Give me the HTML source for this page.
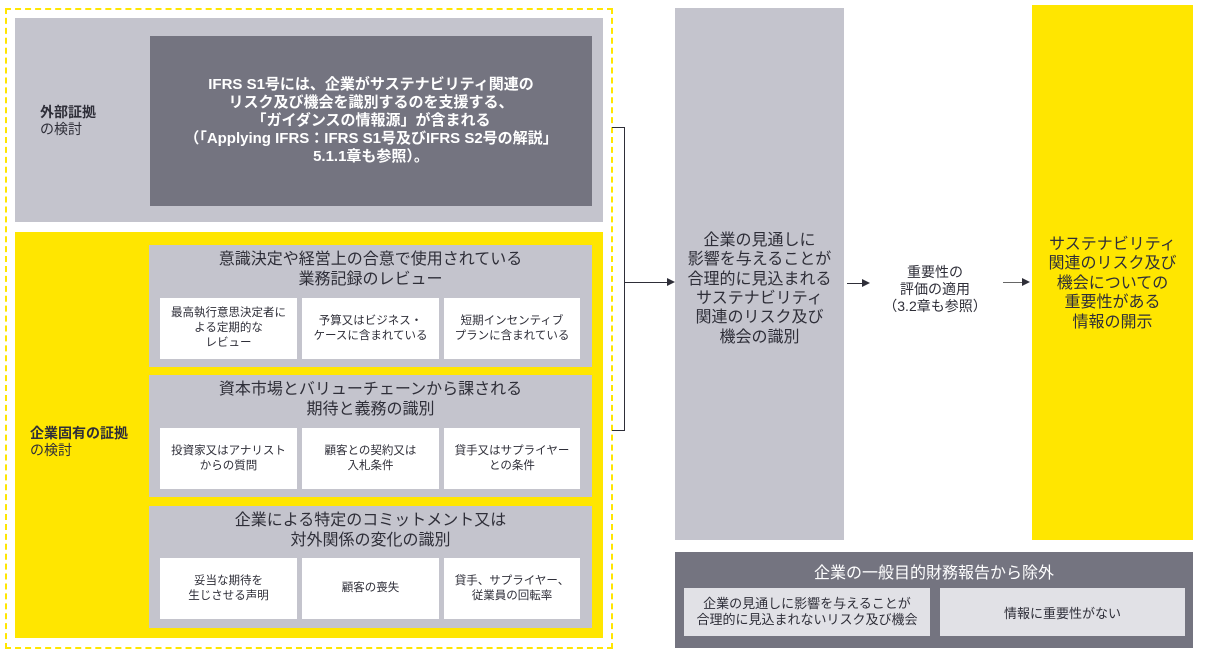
<!DOCTYPE html>
<html><head><meta charset="utf-8"><style>
*{margin:0;padding:0;box-sizing:border-box}
body{width:1205px;height:655px;background:#fff;position:relative;overflow:hidden;font-family:"Liberation Sans","Noto Sans CJK JP",sans-serif;color:#2e2e38}
.a{position:absolute;display:flex;align-items:center;justify-content:center;text-align:center}
.w{background:#fff;font-size:11.5px;line-height:15px}
.ph{font-size:16px;line-height:20px}
.ln{position:absolute;background:#2e2e38}
.ar{position:absolute;width:0;height:0;border-top:4px solid transparent;border-bottom:4px solid transparent;border-left:8px solid #2e2e38}
</style></head><body>
<div style="position:absolute;left:5px;top:8px;width:608px;height:641px;border:2px dashed #ffe600"></div>
<div class="a" style="left:15px;top:18px;width:588px;height:204px;background:#c4c4cd"></div>
<div style="position:absolute;left:40px;top:104px;font-size:14px;line-height:17px;text-align:left"><b>外部証拠</b><br>の検討</div>
<div class="a" style="left:150px;top:36px;width:442px;height:170px;background:#747480;color:#fff;font-size:15px;line-height:18px;font-weight:bold">IFRS S1号には、企業がサステナビリティ関連の<br>リスク及び機会を識別するのを支援する、<br>「ガイダンスの情報源」が含まれる<br>（「Applying IFRS：IFRS S1号及びIFRS S2号の解説」<br>5.1.1章も参照）。</div>
<div style="position:absolute;left:15px;top:232px;width:588px;height:406px;background:#ffe600"></div>
<div style="position:absolute;left:30px;top:425px;font-size:14px;line-height:17px;text-align:left"><b>企業固有の証拠</b><br>の検討</div>

<div style="position:absolute;left:149px;top:245px;width:443px;height:122px;background:#c4c4cd"></div>
<div class="a ph" style="left:149px;top:249px;width:443px;height:42px">意識決定や経営上の合意で使用されている<br>業務記録のレビュー</div>
<div class="a w" style="left:160px;top:298px;width:137px;height:61px">最高執行意思決定者に<br>よる定期的な<br>レビュー</div>
<div class="a w" style="left:302px;top:298px;width:137px;height:61px">予算又はビジネス・<br>ケースに含まれている</div>
<div class="a w" style="left:444px;top:298px;width:136px;height:61px">短期インセンティブ<br>プランに含まれている</div>

<div style="position:absolute;left:149px;top:375px;width:443px;height:122px;background:#c4c4cd"></div>
<div class="a ph" style="left:149px;top:379px;width:443px;height:42px">資本市場とバリューチェーンから課される<br>期待と義務の識別</div>
<div class="a w" style="left:160px;top:428px;width:137px;height:61px">投資家又はアナリスト<br>からの質問</div>
<div class="a w" style="left:302px;top:428px;width:137px;height:61px">顧客との契約又は<br>入札条件</div>
<div class="a w" style="left:444px;top:428px;width:136px;height:61px">貸手又はサプライヤー<br>との条件</div>

<div style="position:absolute;left:149px;top:506px;width:443px;height:122px;background:#c4c4cd"></div>
<div class="a ph" style="left:149px;top:510px;width:443px;height:42px">企業による特定のコミットメント又は<br>対外関係の変化の識別</div>
<div class="a w" style="left:160px;top:558px;width:137px;height:61px">妥当な期待を<br>生じさせる声明</div>
<div class="a w" style="left:302px;top:558px;width:137px;height:61px">顧客の喪失</div>
<div class="a w" style="left:444px;top:558px;width:136px;height:61px">貸手、サプライヤー、<br>従業員の回転率</div>

<div class="ln" style="left:612px;top:127px;width:13px;height:1px"></div>
<div class="ln" style="left:624px;top:127px;width:1px;height:304px"></div>
<div class="ln" style="left:612px;top:430px;width:13px;height:1px"></div>
<div class="ln" style="left:624px;top:282px;width:44px;height:1px"></div>
<div class="ar" style="left:667px;top:278px"></div>

<div class="a" style="left:675px;top:8px;width:169px;height:532px;background:#c4c4cd;font-size:16px;line-height:19.3px;padding-top:30px">企業の見通しに<br>影響を与えることが<br>合理的に見込まれる<br>サステナビリティ<br>関連のリスク及び<br>機会の識別</div>
<div class="ln" style="left:847px;top:283px;width:16px;height:1px"></div>
<div class="ar" style="left:862px;top:279px"></div>
<div class="a" style="left:865px;top:262px;width:140px;height:55px;font-size:14px;line-height:17px">重要性の<br>評価の適用<br>（3.2章も参照）</div>
<div class="ln" style="left:1003px;top:282px;width:20px;height:1px;background:#666"></div>
<div class="ar" style="left:1022px;top:278px"></div>
<div class="a" style="left:1032px;top:5px;width:161px;height:535px;background:#ffe600;font-size:16px;line-height:19.5px;padding-top:22px">サステナビリティ<br>関連のリスク及び<br>機会についての<br>重要性がある<br>情報の開示</div>

<div style="position:absolute;left:675px;top:552px;width:518px;height:96px;background:#747480"></div>
<div class="a" style="left:675px;top:558px;width:518px;height:26px;color:#fff;font-size:16px">企業の一般目的財務報告から除外</div>
<div class="a" style="left:684px;top:588px;width:246px;height:48px;background:#e1e1e6;font-size:13px;line-height:16px">企業の見通しに影響を与えることが<br>合理的に見込まれないリスク及び機会</div>
<div class="a" style="left:940px;top:588px;width:245px;height:48px;background:#e1e1e6;font-size:13px">情報に重要性がない</div>
</body></html>
